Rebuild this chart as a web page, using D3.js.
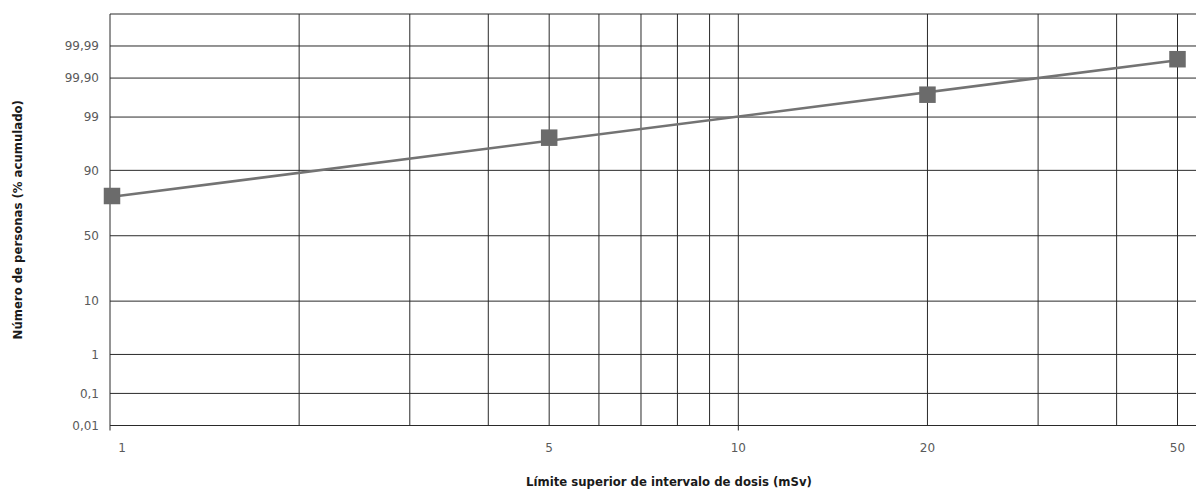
<!DOCTYPE html>
<html>
<head>
<meta charset="utf-8">
<script src="https://cdn.jsdelivr.net/npm/d3@7"></script>
<style>
  html, body { margin: 0; padding: 0; background: #fff; }
  svg { display: block; }
  .tick-label { font-family: "DejaVu Sans", sans-serif; font-size: 12px; fill: #5a5a5a; }
  .axis-title { font-family: "Liberation Sans Narrow", "DejaVu Sans Condensed", sans-serif; font-stretch: condensed; font-weight: bold; font-size: 13px; fill: #1a1a1a; }
</style>
</head>
<body>
<svg id="chart" width="1196" height="493"></svg>
<script>
// ---- data ----
const doseLimits = [1, 5, 20, 50];                       // mSv
const cumulativePct = [78.2, 97.27, 99.715, 99.973];     // % acumulado
const fitDose = [1, 50];
const fitPct = [77.6, 99.971];
const xGridValues = [1, 2, 3, 4, 5, 6, 7, 8, 9, 10, 20, 30, 40, 50];
const xTickValues = [1, 5, 10, 20, 50];
const xTickLabels = ["1", "5", "10", "20", "50"];
const yTickValues = [0.01, 0.1, 1, 10, 50, 90, 99, 99.9, 99.99];
const yTickLabels = ["0,01", "0,1", "1", "10", "50", "90", "99", "99,90", "99,99"];
const xTitle = "Límite superior de intervalo de dosis (mSv)";
const yTitle = "Número de personas (% acumulado)";

// inverse normal CDF (Acklam) for the probability axis
function probit(p) {
  const a = [-3.969683028665376e+01, 2.209460984245205e+02, -2.759285104469687e+02, 1.383577518672690e+02, -3.066479806614716e+01, 2.506628277459239e+00];
  const b = [-5.447609879822406e+01, 1.615858368580409e+02, -1.556989798598866e+02, 6.680131188771972e+01, -1.328068155288572e+01];
  const c = [-7.784894002430293e-03, -3.223964580411365e-01, -2.400758277161838e+00, -2.549732539343734e+00, 4.374664141464968e+00, 2.938163982698783e+00];
  const d = [7.784695709041462e-03, 3.224671290700398e-01, 2.445134137142996e+00, 3.754408661907416e+00];
  const pl = 0.02425, ph = 1 - pl;
  let q, r;
  if (p < pl) {
    q = Math.sqrt(-2 * Math.log(p));
    return (((((c[0]*q+c[1])*q+c[2])*q+c[3])*q+c[4])*q+c[5]) / ((((d[0]*q+d[1])*q+d[2])*q+d[3])*q+1);
  } else if (p <= ph) {
    q = p - 0.5; r = q * q;
    return (((((a[0]*r+a[1])*r+a[2])*r+a[3])*r+a[4])*r+a[5])*q / (((((b[0]*r+b[1])*r+b[2])*r+b[3])*r+b[4])*r+1);
  } else {
    q = Math.sqrt(-2 * Math.log(1 - p));
    return -(((((c[0]*q+c[1])*q+c[2])*q+c[3])*q+c[4])*q+c[5]) / ((((d[0]*q+d[1])*q+d[2])*q+d[3])*q+1);
  }
}
const zOf = pct => probit(pct / 100);

// ---- layout ----
const W = 1196, H = 493;
const mLeft = 110, mTop = 14, mBottom = 425.5, xEnd = 1177.5;
const svg = d3.select("#chart");

const x = d3.scaleLog().domain([1, 50]).range([mLeft, xEnd]);
const zBottom = zOf(0.01), zTop = 4.346;
const yz = d3.scaleLinear().domain([zBottom, zTop]).range([mBottom, mTop]);
const y = pct => yz(zOf(pct));

const gridColor = "#2a2a2a";

// horizontal grid lines
svg.append("g").selectAll("line").data(yTickValues).join("line")
  .attr("x1", mLeft).attr("x2", W)
  .attr("y1", d => y(d)).attr("y2", d => y(d))
  .attr("stroke", gridColor).attr("stroke-width", 1);

// top border
svg.append("line").attr("x1", mLeft).attr("x2", W).attr("y1", mTop).attr("y2", mTop)
  .attr("stroke", gridColor).attr("stroke-width", 1);

// vertical grid lines
svg.append("g").selectAll("line").data(xGridValues).join("line")
  .attr("x1", d => x(d)).attr("x2", d => x(d))
  .attr("y1", mTop).attr("y2", d => (d === 1 || d === 10) ? mBottom + 5 : mBottom)
  .attr("stroke", gridColor).attr("stroke-width", 1);

// y tick labels
svg.append("g").selectAll("text").data(yTickValues).join("text")
  .attr("class", "tick-label")
  .attr("x", 99).attr("y", d => y(d)).attr("dy", "0.35em")
  .attr("text-anchor", "end")
  .text((d, i) => yTickLabels[i]);

// x tick labels
svg.append("g").selectAll("text").data(xTickValues).join("text")
  .attr("class", "tick-label")
  .attr("x", (d, i) => x(d) + (i === 0 ? 12 : 0)).attr("y", 452)
  .attr("text-anchor", "middle")
  .text((d, i) => xTickLabels[i]);

// fitted line
const line = d3.line().x(d => x(d[0])).y(d => y(d[1]));
svg.append("path")
  .datum(fitDose.map((d, i) => [d, fitPct[i]]))
  .attr("d", line)
  .attr("fill", "none").attr("stroke", "#737373").attr("stroke-width", 2.6);

// markers
const ms = 16.5;
svg.append("g").selectAll("rect").data(doseLimits.map((d, i) => [d, cumulativePct[i]])).join("rect")
  .attr("x", d => x(d[0]) - ms / 2 + (d[0] === 1 ? 2 : 0))
  .attr("y", d => y(d[1]) - ms / 2)
  .attr("width", ms).attr("height", ms)
  .attr("fill", "#6b6b6b");

// axis titles
svg.append("text").attr("class", "axis-title")
  .attr("x", 669).attr("y", 486).attr("text-anchor", "middle")
  .text(xTitle);
svg.append("text").attr("class", "axis-title")
  .attr("transform", "translate(22," + ((mTop + mBottom) / 2) + ") rotate(-90)")
  .attr("text-anchor", "middle")
  .text(yTitle);
</script>
</body>
</html>
